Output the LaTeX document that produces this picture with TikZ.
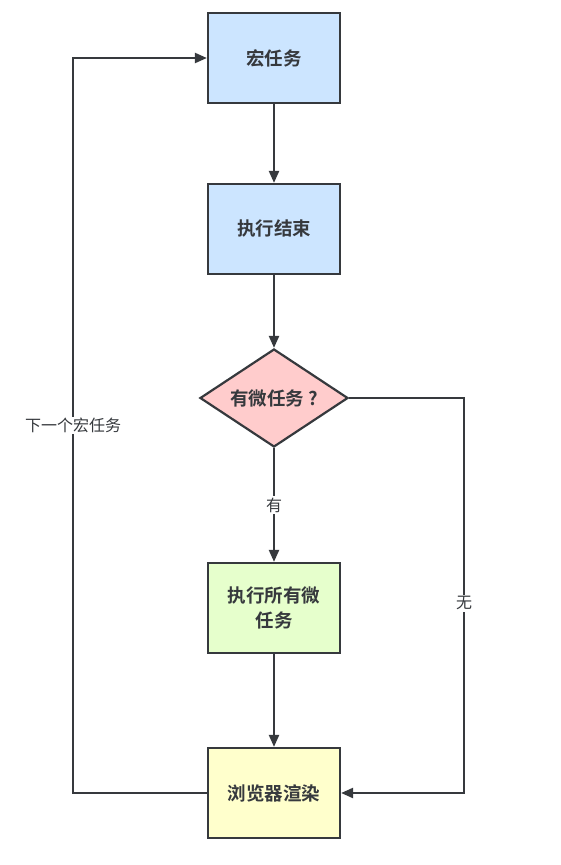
\documentclass[tikz,border=0pt]{standalone}
\usepackage{fontspec}
\setmainfont{Noto Sans CJK SC}
\newfontfamily\cjkb{Noto Sans CJK SC Bold}
\usetikzlibrary{shapes.geometric,arrows.meta}
\definecolor{strk}{HTML}{36393D}
\definecolor{cblue}{HTML}{CCE5FF}
\definecolor{cpink}{HTML}{FFCCCC}
\definecolor{cgreen}{HTML}{E6FFCC}
\definecolor{cyellow}{HTML}{FFFFCC}
\begin{document}
\begin{tikzpicture}[x=1pt,y=-1pt,
  boxst/.style={draw=strk,line width=2.2pt,minimum width=132pt,minimum height=90pt,inner sep=0pt,font=\cjkb\fontsize{18.5pt}{25pt}\selectfont,text=strk,align=center,text width=124pt},
  decst/.style={draw=strk,line width=2.2pt,diamond,aspect=1.5,minimum width=148pt,minimum height=98pt,inner sep=0pt,font=\cjkb\fontsize{18.5pt}{25pt}\selectfont,text=strk},
  conn/.style={draw=strk,line width=2.2pt,-{Triangle[length=12pt,width=10pt]}},
  lab/.style={fill=white,font=\fontsize{16pt}{20pt}\selectfont,text=strk,inner sep=1.5pt}]
\useasboundingbox (0,0) rectangle (561,865);
\node[boxst,fill=cblue] (a) at (274,58) {宏任务};
\node[boxst,fill=cblue] (b) at (274,229) {执行结束};
\node[decst,fill=cpink] (c) at (274,398) {有微任务 ?};
\node[boxst,fill=cgreen] (d) at (274,608) {执行所有微\\任务};
\node[boxst,fill=cyellow] (e) at (274,793) {浏览器渲染};
\coordinate (l1) at (73,793);
\coordinate (l2) at (73,58);
\coordinate (r1) at (464,398);
\coordinate (r2) at (464,793);
\draw[conn] (a) -- (b);
\draw[conn] (b) -- (c);
\draw[conn] (c) -- node[lab,pos=0.5] {有} (d);
\draw[conn] (d) -- (e);
\draw[conn] (e.west) -- (l1) -- node[lab,pos=0.5] {下一个宏任务} (l2) -- (a.west);
\draw[conn] (c.east) -- (r1) -- node[lab,pos=0.52] {无} (r2) -- (e.east);
\end{tikzpicture}
\end{document}
